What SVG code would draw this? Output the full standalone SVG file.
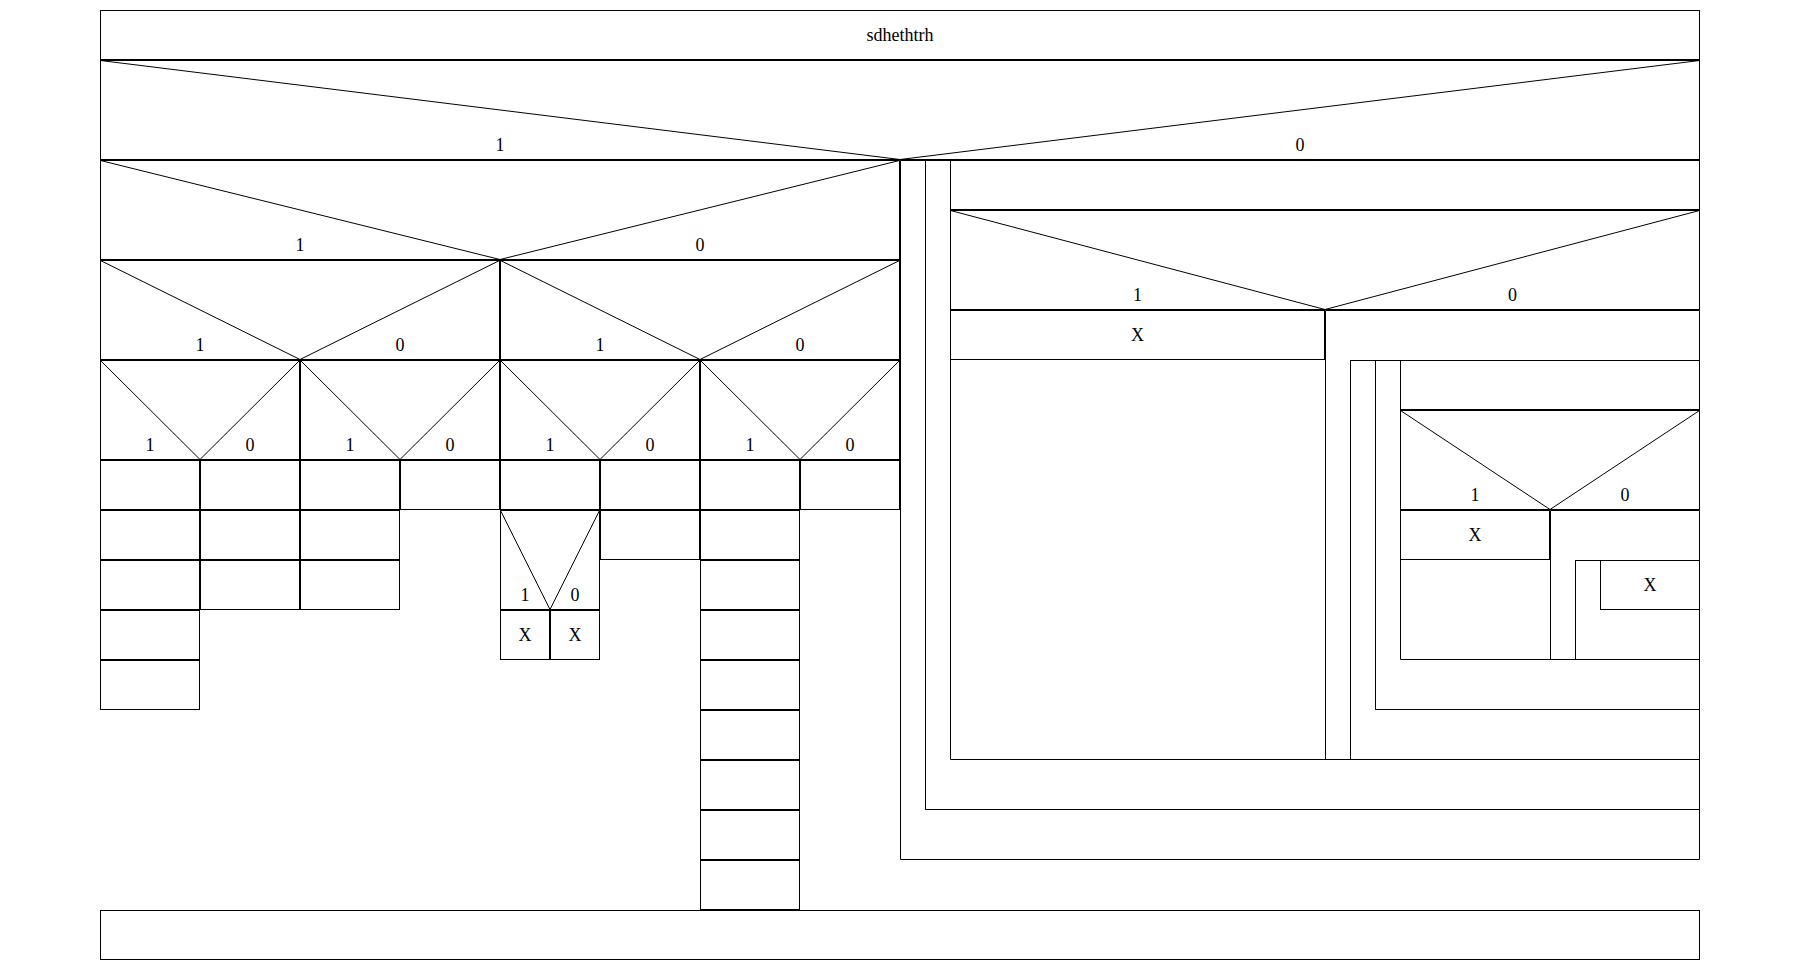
<svg xmlns="http://www.w3.org/2000/svg" width="1800" height="980" viewBox="0 0 1800 980">
<style>
rect,path,line{fill:none;stroke:#000;stroke-width:1}
text{font-family:"Liberation Serif","Times New Roman",serif;font-size:18px;text-anchor:middle;fill:#000}
</style>
<rect x="0" y="0" width="1800" height="980" fill="#fff" stroke="none" style="fill:#fff;stroke:none"/>
<g id="header"><rect x="100.5" y="10.5" width="1599" height="49"/><text x="900" y="41">sdhethtrh</text></g>
<g id="d0"><rect x="100.5" y="60.5" width="1599" height="99"/><line x1="100.5" y1="60.5" x2="900" y2="159.5"/><line x1="1699.5" y1="60.5" x2="900" y2="159.5"/><text x="500" y="151">1</text><text x="1300" y="151">0</text></g>
<g id="d1"><rect x="100.5" y="160.5" width="799" height="99"/><line x1="100.5" y1="160.5" x2="500" y2="259.5"/><line x1="899.5" y1="160.5" x2="500" y2="259.5"/><text x="300" y="251">1</text><text x="700" y="251">0</text></g>
<g id="d2a"><rect x="100.5" y="260.5" width="399" height="99"/><line x1="100.5" y1="260.5" x2="300" y2="359.5"/><line x1="499.5" y1="260.5" x2="300" y2="359.5"/><text x="200" y="351">1</text><text x="400" y="351">0</text></g>
<g id="d2b"><rect x="500.5" y="260.5" width="399" height="99"/><line x1="500.5" y1="260.5" x2="700" y2="359.5"/><line x1="899.5" y1="260.5" x2="700" y2="359.5"/><text x="600" y="351">1</text><text x="800" y="351">0</text></g>
<g id="d3a"><rect x="100.5" y="360.5" width="199" height="99"/><line x1="100.5" y1="360.5" x2="200" y2="459.5"/><line x1="299.5" y1="360.5" x2="200" y2="459.5"/><text x="150" y="451">1</text><text x="250" y="451">0</text></g>
<g id="d3b"><rect x="300.5" y="360.5" width="199" height="99"/><line x1="300.5" y1="360.5" x2="400" y2="459.5"/><line x1="499.5" y1="360.5" x2="400" y2="459.5"/><text x="350" y="451">1</text><text x="450" y="451">0</text></g>
<g id="d3c"><rect x="500.5" y="360.5" width="199" height="99"/><line x1="500.5" y1="360.5" x2="600" y2="459.5"/><line x1="699.5" y1="360.5" x2="600" y2="459.5"/><text x="550" y="451">1</text><text x="650" y="451">0</text></g>
<g id="d3d"><rect x="700.5" y="360.5" width="199" height="99"/><line x1="700.5" y1="360.5" x2="800" y2="459.5"/><line x1="899.5" y1="360.5" x2="800" y2="459.5"/><text x="750" y="451">1</text><text x="850" y="451">0</text></g>
<g id="col1">
<rect x="100.5" y="460.5" width="99" height="49"/><rect x="100.5" y="510.5" width="99" height="49"/><rect x="100.5" y="560.5" width="99" height="49"/><rect x="100.5" y="610.5" width="99" height="49"/><rect x="100.5" y="660.5" width="99" height="49"/>
</g>
<g id="col2"><rect x="200.5" y="460.5" width="99" height="49"/><rect x="200.5" y="510.5" width="99" height="49"/><rect x="200.5" y="560.5" width="99" height="49"/></g>
<g id="col3"><rect x="300.5" y="460.5" width="99" height="49"/><rect x="300.5" y="510.5" width="99" height="49"/><rect x="300.5" y="560.5" width="99" height="49"/></g>
<g id="col4"><rect x="400.5" y="460.5" width="99" height="49"/></g>
<g id="col5">
<rect x="500.5" y="460.5" width="99" height="49"/>
<rect x="500.5" y="510.5" width="99" height="99"/><line x1="500.5" y1="510.5" x2="550" y2="609.5"/><line x1="599.5" y1="510.5" x2="550" y2="609.5"/><text x="525" y="601">1</text><text x="575" y="601">0</text>
<rect x="500.5" y="610.5" width="49" height="49"/><text x="525" y="641">X</text>
<rect x="550.5" y="610.5" width="49" height="49"/><text x="575" y="641">X</text>
</g>
<g id="col6"><rect x="600.5" y="460.5" width="99" height="49"/><rect x="600.5" y="510.5" width="99" height="49"/></g>
<g id="col7">
<rect x="700.5" y="460.5" width="99" height="49"/><rect x="700.5" y="510.5" width="99" height="49"/><rect x="700.5" y="560.5" width="99" height="49"/><rect x="700.5" y="610.5" width="99" height="49"/><rect x="700.5" y="660.5" width="99" height="49"/><rect x="700.5" y="710.5" width="99" height="49"/><rect x="700.5" y="760.5" width="99" height="49"/><rect x="700.5" y="810.5" width="99" height="49"/><rect x="700.5" y="860.5" width="99" height="49"/>
</g>
<g id="col8"><rect x="800.5" y="460.5" width="99" height="49"/></g>
<g id="loop1"><path d="M900.5,160.5 V859.5 H1699.5 V809.5 H925.5 V160.5 Z"/></g>
<g id="loop2"><path d="M925.5,160.5 V809.5 H1699.5 V759.5 H950.5 V160.5 Z"/></g>
<g id="row-r1"><rect x="950.5" y="160.5" width="749" height="49"/></g>
<g id="d4"><rect x="950.5" y="210.5" width="749" height="99"/><line x1="950.5" y1="210.5" x2="1325" y2="309.5"/><line x1="1699.5" y1="210.5" x2="1325" y2="309.5"/><text x="1137.5" y="301">1</text><text x="1512.5" y="301">0</text></g>
<g id="x1"><rect x="950.5" y="310.5" width="374" height="49"/><text x="1137.5" y="341">X</text></g>
<g id="while1"><path d="M1325.5,310.5 H1699.5 V360.5 H1350.5 V759.5 H1325.5 Z"/></g>
<g id="loop3"><path d="M1350.5,360.5 V759.5 H1699.5 V709.5 H1375.5 V360.5 Z"/></g>
<g id="loop4"><path d="M1375.5,360.5 V709.5 H1699.5 V659.5 H1400.5 V360.5 Z"/></g>
<g id="row-r2"><rect x="1400.5" y="360.5" width="299" height="49"/></g>
<g id="d5"><rect x="1400.5" y="410.5" width="299" height="99"/><line x1="1400.5" y1="410.5" x2="1550" y2="509.5"/><line x1="1699.5" y1="410.5" x2="1550" y2="509.5"/><text x="1475" y="501">1</text><text x="1625" y="501">0</text></g>
<g id="x2"><rect x="1400.5" y="510.5" width="149" height="49"/><text x="1475" y="541">X</text></g>
<g id="while2"><path d="M1550.5,510.5 H1699.5 V560.5 H1575.5 V659.5 H1550.5 Z"/></g>
<g id="loop5"><path d="M1575.5,560.5 V659.5 H1699.5 V609.5 H1600.5 V560.5 Z"/></g>
<g id="x3"><rect x="1600.5" y="560.5" width="99" height="49"/><text x="1650" y="591">X</text></g>
<g id="footer"><rect x="100.5" y="910.5" width="1599" height="49"/></g>
<g id="connectors"></g>
</svg>
